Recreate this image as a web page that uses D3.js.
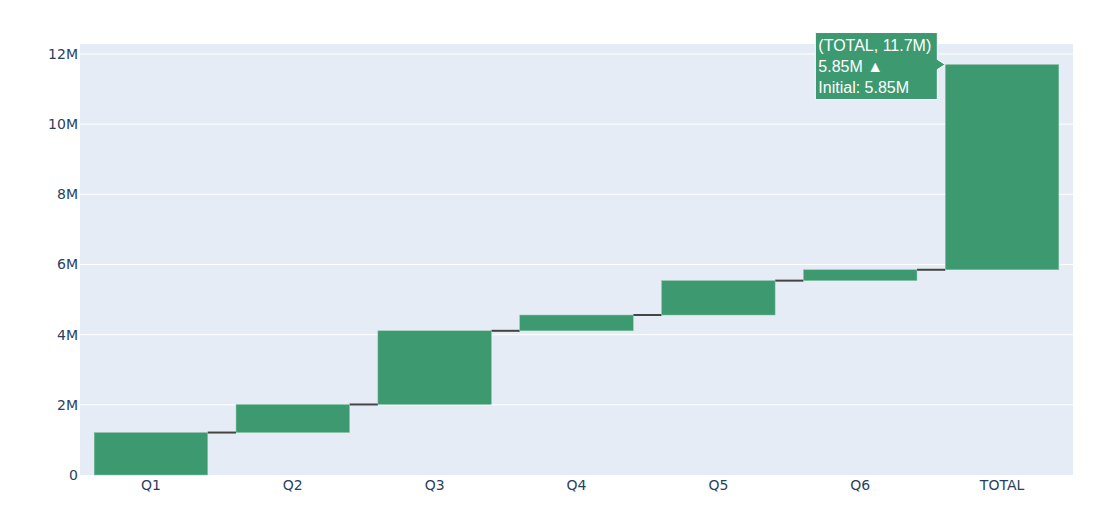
<!DOCTYPE html>
<html>
<head>
<meta charset="utf-8">
<script src="https://cdn.jsdelivr.net/npm/d3@7"></script>
<style>
  html, body { margin: 0; padding: 0; background: #fff; }
  svg { display: block; }
</style>
</head>
<body>
<svg id="chart" width="1108" height="528"></svg>
<script>
// ---- data ----
const categories = ["Q1", "Q2", "Q3", "Q4", "Q5", "Q6", "TOTAL"];
const deltas = [1.21e6, 0.80e6, 2.10e6, 0.45e6, 0.98e6, 0.31e6, 5.85e6];
const yTickValues = [0, 2e6, 4e6, 6e6, 8e6, 10e6, 12e6];
const yTickLabels = ["0", "2M", "4M", "6M", "8M", "10M", "12M"];
const hoverIndex = 6;

// ---- layout ----
const W = 1108, H = 528;
const margin = { left: 80, top: 44, right: 35, bottom: 53 };
const pw = W - margin.left - margin.right;
const ph = H - margin.top - margin.bottom;
const tickFont = "'DejaVu Sans', verdana, sans-serif";

const bars = [];
let cum = 0;
deltas.forEach((d, i) => {
  bars.push({ cat: categories[i], base: cum, end: cum + d, delta: d });
  cum += d;
});
const maxV = d3.max(bars, b => b.end);

const svg = d3.select("#chart");
const g = svg.append("g").attr("transform", `translate(${margin.left},${margin.top})`);

const x = d3.scaleBand().domain(categories).range([0, pw]).paddingInner(0.2).paddingOuter(0.1);
const y = d3.scaleLinear().domain([0, maxV * 1.05]).range([ph, 0]);

g.append("rect").attr("width", pw).attr("height", ph).attr("fill", "#E5ECF6");

// gridlines
g.selectAll("line.grid").data(yTickValues.filter(v => v > 0)).enter().append("line")
  .attr("class", "grid")
  .attr("x1", 0).attr("x2", pw)
  .attr("y1", d => y(d)).attr("y2", d => y(d))
  .attr("stroke", "#fff").attr("stroke-width", 1);

// y axis
const yAxis = d3.axisLeft(y).tickValues(yTickValues)
  .tickFormat((d, i) => yTickLabels[i]).tickSize(0).tickPadding(2);
const ya = g.append("g").call(yAxis);
ya.select(".domain").remove();
ya.selectAll("text").attr("fill", "#2a3f5f").style("font-family", tickFont).style("font-size", "14px");

// x axis
const xAxis = d3.axisBottom(x).tickSize(0).tickPadding(5);
const xa = g.append("g").attr("transform", `translate(0,${ph})`).call(xAxis);
xa.select(".domain").remove();
xa.selectAll("text").attr("fill", "#2a3f5f").style("font-family", tickFont).style("font-size", "14px");

// connectors
for (let i = 0; i < bars.length - 1; i++) {
  g.append("line")
    .attr("x1", x(bars[i].cat) + x.bandwidth())
    .attr("x2", x(bars[i + 1].cat))
    .attr("y1", y(bars[i].end)).attr("y2", y(bars[i].end))
    .attr("stroke", "#444").attr("stroke-width", 2);
}

// bars
g.selectAll("rect.bar").data(bars).enter().append("rect")
  .attr("class", "bar")
  .attr("x", d => x(d.cat))
  .attr("width", x.bandwidth())
  .attr("y", d => y(d.end))
  .attr("height", d => y(d.base) - y(d.end))
  .attr("fill", "#3D9970")
  .attr("stroke", "#8cc4a8").attr("stroke-width", 0.5);

// hover label
const fmt = v => d3.format(".3~s")(v).replace("G", "B");
const hb = bars[hoverIndex];
const tipX = x(hb.cat), tipY = y(hb.end);
const lines = [`(${hb.cat}, ${fmt(hb.end)})`, `${fmt(hb.delta)} ▲`, `Initial: ${fmt(hb.base)}`];
const hg = g.append("g").attr("transform", `translate(${tipX},${tipY})`);
const bw = 122, bh = 67, arrow = 8;
const bx = -arrow - bw, by = -32;
hg.append("path")
  .attr("d", `M0,0 L${-arrow},${-5} L${-arrow},${by} L${bx},${by} L${bx},${by + bh} L${-arrow},${by + bh} L${-arrow},5 Z`)
  .attr("fill", "#3D9970").attr("stroke", "#fff").attr("stroke-width", 1);
hg.selectAll("text").data(lines).enter().append("text")
  .attr("x", bx + 3)
  .attr("y", (d, i) => by + 18 + i * 21)
  .attr("fill", "#fff")
  .style("font-family", "Arial, 'Liberation Sans', sans-serif")
  .style("font-size", "16px")
  .text(d => d);
</script>
</body>
</html>
